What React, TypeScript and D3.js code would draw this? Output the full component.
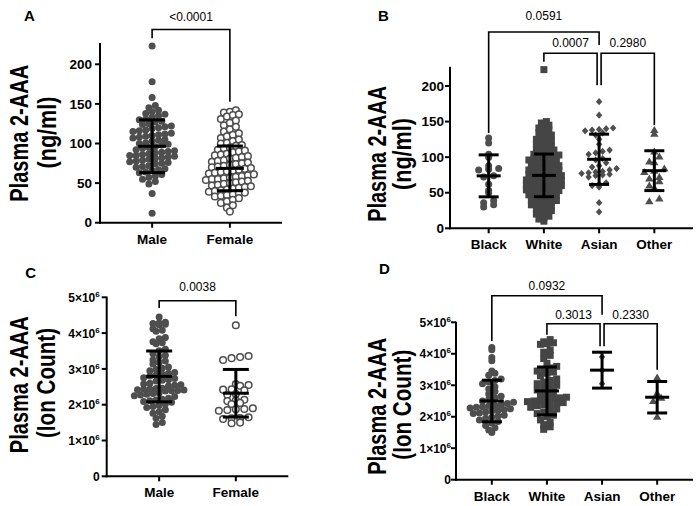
import React from "react";
import * as d3 from "d3";

const FONT = "'Liberation Sans', Arial, Helvetica, sans-serif";
const INK = "#000";
const DOT = "#4e4e4e";

const sexCategories = ["Male", "Female"];
const raceCategories = ["Black", "White", "Asian", "Other"];

// ---------- Panel A: Plasma 2-AAA (ng/ml) by sex ----------
const aMale = [223, 178, 158, 148, 145, 142, 140, 138, 137, 135, 133, 131, 130, 128, 127, 125, 124, 122, 121, 120, 119, 117, 116, 115, 113, 112, 111, 110, 109, 108, 107, 105, 104, 103, 101, 100, 99, 98, 96, 95, 94, 92, 91, 90, 89, 88, 87, 86, 85, 85, 84, 83, 82, 81, 80, 79, 78, 77, 76, 75, 74, 72, 71, 70, 68, 67, 66, 64, 63, 61, 59, 57, 55, 52, 49, 37, 12];
const aFemale = [142, 140, 139, 137, 136, 134, 131, 129, 126, 123, 121, 118, 115, 113, 111, 109, 107, 105, 103, 101, 100, 98, 97, 95, 94, 92, 91, 90, 89, 87, 86, 85, 84, 83, 82, 81, 79, 78, 77, 76, 75, 74, 73, 72, 71, 70, 69, 68, 67, 66, 65, 64, 63, 62, 61, 60, 59, 58, 57, 56, 55, 55, 54, 53, 52, 51, 50, 49, 48, 47, 46, 45, 44, 43, 42, 41, 40, 39, 38, 37, 36, 35, 34, 33, 31, 29, 27, 25, 22, 19, 14];
const aMeans = [96.5, 68.6];
const aSDs = [33.3, 28.2];
const aTicks = [0, 50, 100, 150, 200];

// ---------- Panel B: Plasma 2-AAA (ng/ml) by race ----------
const bBlack = [127, 120, 104, 100, 88, 84, 83, 82, 74, 72, 62, 53, 50, 39, 36, 33, 30];
const bWhite = [223, 150, 148, 145, 143, 141, 138, 136, 134, 131, 129, 127, 125, 123, 121, 119, 118, 116, 114, 112, 111, 110, 108, 107, 105, 104, 103, 102, 100, 99, 98, 97, 96, 95, 94, 93, 91, 90, 89, 88, 87, 86, 85, 84, 83, 82, 81, 80, 79, 78, 77, 76, 75, 74, 74, 73, 72, 71, 70, 69, 68, 67, 67, 66, 65, 64, 63, 62, 61, 60, 60, 59, 58, 57, 56, 55, 54, 53, 52, 51, 50, 49, 48, 47, 46, 45, 44, 42, 41, 40, 39, 38, 37, 35, 34, 33, 31, 30, 28, 27, 25, 23, 21, 20, 17, 15, 13, 10];
const bAsian = [178, 159, 141, 140, 139, 138, 137, 134, 131, 125, 118, 110, 108, 106, 104, 98, 96, 92, 88, 86, 84, 82, 80, 79, 78, 77, 76, 75, 74, 72, 64, 62, 60, 58, 36, 23];
const bOther = [138, 133, 108, 101, 94, 93, 84, 81, 79, 72, 70, 66, 60, 57, 42, 38];
const bMeans = [73.7, 74.4, 97, 81];
const bSDs = [29.5, 30, 35.3, 28];

// ---------- Panel C: Plasma 2-AAA (ion count, ×10^6) by sex ----------
const cMale = [4.45, 4.3, 4.28, 4.27, 4.25, 4.23, 4.12, 4.08, 4.05, 3.88, 3.84, 3.76, 3.73, 3.7, 3.55, 3.51, 3.42, 3.38, 3.34, 3.25, 3.22, 3.18, 3.14, 3.05, 3.02, 2.98, 2.95, 2.9, 2.88, 2.85, 2.83, 2.8, 2.75, 2.73, 2.7, 2.68, 2.66, 2.6, 2.58, 2.56, 2.54, 2.52, 2.46, 2.45, 2.44, 2.43, 2.42, 2.41, 2.4, 2.39, 2.38, 2.33, 2.31, 2.29, 2.27, 2.25, 2.23, 2.18, 2.15, 2.13, 2.11, 2.09, 2.07, 2.02, 1.98, 1.95, 1.92, 1.86, 1.8, 1.76, 1.68, 1.62, 1.5, 1.45];
const cFemale = [4.22, 3.36, 3.33, 3.3, 3.25, 2.58, 2.55, 2.53, 2.43, 2.42, 2.4, 2.3, 2.28, 2.14, 2.12, 2.1, 2.05, 2.02, 1.9, 1.88, 1.87, 1.85, 1.83, 1.65, 1.63, 1.62, 1.6, 1.5, 1.48];
const cMeans = [2.79, 2.32];
const cSDs = [0.71, 0.665];
const cTicks = [0, 1, 2, 3, 4, 5];

// ---------- Panel D: Plasma 2-AAA (ion count, ×10^6) by race ----------
const dBlack = [4.2, 4.13, 3.88, 3.78, 3.45, 3.38, 3.32, 3.2, 3.15, 3.1, 3.05, 2.95, 2.88, 2.8, 2.72, 2.65, 2.6, 2.55, 2.5, 2.46, 2.42, 2.38, 2.36, 2.34, 2.32, 2.3, 2.28, 2.25, 2.22, 2.2, 2.18, 2.15, 2.12, 2.1, 2.05, 2.02, 1.98, 1.95, 1.9, 1.85, 1.8, 1.72, 1.65, 1.58, 1.5];
const dWhite = [4.45, 4.38, 4.35, 4.32, 4.3, 4.12, 4.05, 3.95, 3.85, 3.7, 3.6, 3.55, 3.5, 3.45, 3.42, 3.38, 3.3, 3.2, 3.15, 3.1, 3.05, 3.0, 2.95, 2.9, 2.85, 2.8, 2.75, 2.7, 2.62, 2.6, 2.58, 2.55, 2.52, 2.5, 2.48, 2.45, 2.42, 2.4, 2.38, 2.35, 2.3, 2.25, 2.2, 2.15, 2.1, 2.05, 2.0, 1.9, 1.82, 1.75, 1.68, 1.6];
const dAsian = [3.9, 3.48, 3.05];
const dOther = [3.25, 2.75, 2.6, 2.5, 2.0];
const dMeans = [2.5, 2.82, 3.48, 2.62];
const dSDs = [0.66, 0.76, 0.57, 0.5];

// ---------- p-values ----------
const aPvalues = ["<0.0001"];
const bPvalues = ["0.0591", "0.0007", "0.2980"];
const cPvalues = ["0.0038"];
const dPvalues = ["0.0932", "0.3013", "0.2330"];

type Marker = "dot" | "open" | "square" | "diamond" | "triangle";

interface Bracket {
  from: number;
  to: number;
  text: string;
  level: number;
  legFrom: number;
  legTo: number;
  offFrom: number;
  offTo: number;
  lift: number;
}

interface PanelSpec {
  letter: string;
  letterPos: [number, number];
  cats: string[];
  series: number[][];
  markers: Marker[];
  rowH: number[];
  sp: number[];
  means: number[];
  sds: number[];
  yDomain: [number, number];
  yRange: [number, number];
  axisTopVal: number;
  xRange: [number, number];
  xPad: number;
  ticks: number[];
  sci: boolean;
  tickGap: number;
  labels: [string, string];
  labelX: [number, number];
  labelY: [number, number];
  labelLen: [number, number];
  meanHalf: number;
  capHalf: number;
  brackets: Bracket[];
}

function swarm(values: number[], y: (v: number) => number, cx: number, rowH: number, sp: number) {
  const pts = values.map((v) => ({ v, py: y(v) }));
  const bins = d3.group(pts, (p) => Math.floor(p.py / rowH));
  const out: { x: number; y: number }[] = [];
  for (const [, arr] of bins) {
    arr.sort((a, b) => a.v - b.v);
    const n = arr.length;
    arr.forEach((p, i) => out.push({ x: cx + (i - (n - 1) / 2) * sp, y: p.py }));
  }
  return out;
}

function MarkerShape({ m, x, y }: { m: Marker; x: number; y: number }) {
  switch (m) {
    case "dot":
      return <circle cx={x} cy={y} r={3.5} fill={DOT} />;
    case "open":
      return <circle cx={x} cy={y} r={3.3} fill="#fff" stroke={DOT} strokeWidth={1.5} />;
    case "square":
      return <rect x={x - 3.5} y={y - 3.5} width={7} height={7} fill={"#454545"} />;
    case "diamond":
      return <path d={`M${x},${y - 3.6}L${x + 3.2},${y}L${x},${y + 3.6}L${x - 3.2},${y}Z`} fill={DOT} />;
    case "triangle":
      return <path d={`M${x},${y - 4}L${x + 4.2},${y + 3}L${x - 4.2},${y + 3}Z`} fill={DOT} />;
  }
}

function Panel({ s }: { s: PanelSpec }) {
  const y = d3.scaleLinear().domain(s.yDomain).range(s.yRange);
  const x = d3.scalePoint<string>().domain(s.cats).range(s.xRange).padding(s.xPad);
  const x0 = s.xRange[0];
  const yBase = y(0);
  const yTop = y(s.axisTopVal);
  return (
    <g fontFamily={FONT}>
      <text x={s.letterPos[0]} y={s.letterPos[1]} textAnchor="middle" fontSize={15} fontWeight="bold">
        {s.letter}
      </text>
      {s.series.map((vals, gi) => {
        const cx = x(s.cats[gi]) as number;
        return (
          <g key={gi}>
            {swarm(vals, y, cx, s.rowH[gi], s.sp[gi]).map((p, i) => (
              <MarkerShape key={i} m={s.markers[gi]} x={p.x} y={p.y} />
            ))}
          </g>
        );
      })}
      {s.means.map((m, gi) => {
        const cx = x(s.cats[gi]) as number;
        const hi = y(m + s.sds[gi]);
        const lo = y(m - s.sds[gi]);
        const my = y(m);
        return (
          <g key={gi} stroke={INK} strokeWidth={3}>
            <line x1={cx} x2={cx} y1={hi} y2={lo} />
            <line x1={cx - s.meanHalf} x2={cx + s.meanHalf} y1={my} y2={my} />
            <line x1={cx - s.capHalf} x2={cx + s.capHalf} y1={hi} y2={hi} />
            <line x1={cx - s.capHalf} x2={cx + s.capHalf} y1={lo} y2={lo} />
          </g>
        );
      })}
      <g stroke={INK} strokeWidth={2}>
        <line x1={x0} x2={x0} y1={yTop} y2={yBase + 1} />
        <line x1={x0 - 1} x2={s.xRange[1]} y1={yBase} y2={yBase} />
        {s.ticks.map((t) => (
          <line key={t} x1={x0 - 5} x2={x0} y1={y(t)} y2={y(t)} />
        ))}
        {s.cats.map((c) => (
          <line key={c} x1={x(c)} x2={x(c)} y1={yBase} y2={yBase + 5} />
        ))}
      </g>
      {s.ticks.map((t) => (
        <text
          key={t}
          x={x0 - s.tickGap}
          y={y(t) + 4.6}
          textAnchor="end"
          fontSize={s.sci ? 12 : 13.5}
          fontWeight="bold"
        >
          {s.sci && t !== 0 ? (
            <>
              <tspan>{`${t}×10`}</tspan>
              <tspan dy={-5} fontSize={8}>
                6
              </tspan>
            </>
          ) : (
            String(t)
          )}
        </text>
      ))}
      {s.cats.map((c) => (
        <text key={c} x={x(c)} y={yBase + 20.8} textAnchor="middle" fontSize={13.5} fontWeight="bold">
          {c}
        </text>
      ))}
      {s.labels.map((l, i) => (
        <text
          key={i}
          transform={`translate(${s.labelX[i]},${s.labelY[i]}) rotate(-90)`}
          textAnchor="middle"
          dominantBaseline="central"
          fontSize={26}
          fontWeight="bold"
          textLength={s.labelLen[i]}
          lengthAdjust="spacingAndGlyphs"
        >
          {l}
        </text>
      ))}
      {s.brackets.map((b, i) => {
        const xa = (x(s.cats[b.from]) as number) + b.offFrom;
        const xb = (x(s.cats[b.to]) as number) + b.offTo;
        const ly = y(b.level);
        return (
          <g key={i}>
            <path
              d={`M${xa},${y(b.legFrom)}V${ly}H${xb}V${y(b.legTo)}`}
              fill="none"
              stroke={INK}
              strokeWidth={1.6}
            />
            <text x={(xa + xb) / 2} y={ly - b.lift} textAnchor="middle" fontSize={12}>
              {b.text}
            </text>
          </g>
        );
      })}
    </g>
  );
}

const panels: PanelSpec[] = [
  {
    letter: "A",
    letterPos: [29.5, 20.5],
    cats: sexCategories,
    series: [aMale, aFemale],
    markers: ["dot", "open"],
    rowH: [6, 6],
    sp: [6.4, 6],
    means: aMeans,
    sds: aSDs,
    yDomain: [0, 200],
    yRange: [222.7, 64.3],
    axisTopVal: 227,
    xRange: [100, 282],
    xPad: 0.67,
    ticks: aTicks,
    sci: false,
    tickGap: 8,
    labels: ["Plasma 2-AAA", "(ng/ml)"],
    labelX: [18.5, 46.5],
    labelY: [133.3, 132.5],
    labelLen: [137, 72],
    meanHalf: 14,
    capHalf: 13,
    brackets: [
      { from: 0, to: 1, text: aPvalues[0], level: 244, legFrom: 233, legTo: 152.7, offFrom: 0, offTo: 0, lift: 8 },
    ],
  },
  {
    letter: "B",
    letterPos: [383.5, 20.5],
    cats: raceCategories,
    series: [bBlack, bWhite, bAsian, bOther],
    markers: ["dot", "square", "diamond", "triangle"],
    rowH: [6, 5, 6, 6],
    sp: [10, 5, 7, 10],
    means: bMeans,
    sds: bSDs,
    yDomain: [0, 200],
    yRange: [228.3, 86],
    axisTopVal: 227,
    xRange: [450, 693],
    xPad: 0.7,
    ticks: aTicks,
    sci: false,
    tickGap: 6,
    labels: ["Plasma 2-AAA", "(ng/ml)"],
    labelX: [376.7, 401.7],
    labelY: [153.8, 154],
    labelLen: [136, 72],
    meanHalf: 12,
    capHalf: 10,
    brackets: [
      { from: 0, to: 2, text: bPvalues[0], level: 276, legFrom: 134, legTo: 257.5, offFrom: 0, offTo: 0, lift: 12 },
      { from: 1, to: 2, text: bPvalues[1], level: 246, legFrom: 234, legTo: 201, offFrom: 0, offTo: -2, lift: 6 },
      { from: 2, to: 3, text: bPvalues[2], level: 246, legFrom: 201, legTo: 145, offFrom: 2, offTo: 0, lift: 6 },
    ],
  },
  {
    letter: "C",
    letterPos: [30.7, 277.5],
    cats: sexCategories,
    series: [cMale, cFemale],
    markers: ["dot", "open"],
    rowH: [6, 6],
    sp: [6.2, 8.5],
    means: cMeans,
    sds: cSDs,
    yDomain: [0, 5],
    yRange: [476.3, 297.3],
    axisTopVal: 5.02,
    xRange: [106.7, 288.3],
    xPad: 0.684,
    ticks: cTicks,
    sci: true,
    tickGap: 7,
    labels: ["Plasma 2-AAA", "(Ion Count)"],
    labelX: [18.5, 45.5],
    labelY: [384.7, 383],
    labelLen: [137, 110],
    meanHalf: 13,
    capHalf: 13,
    brackets: [
      { from: 0, to: 1, text: cPvalues[0], level: 4.905, legFrom: 4.7, legTo: 4.47, offFrom: 0, offTo: 0, lift: 10 },
    ],
  },
  {
    letter: "D",
    letterPos: [384.3, 274],
    cats: raceCategories,
    series: [dBlack, dWhite, dAsian, dOther],
    markers: ["dot", "square", "diamond", "triangle"],
    rowH: [6, 6, 6, 6],
    sp: [6.2, 6.5, 7, 8],
    means: dMeans,
    sds: dSDs,
    yDomain: [0, 5],
    yRange: [479.7, 322.3],
    axisTopVal: 5.02,
    xRange: [456, 693],
    xPad: 0.65,
    ticks: cTicks,
    sci: true,
    tickGap: 5,
    labels: ["Plasma 2-AAA", "(Ion Count)"],
    labelX: [376.7, 401.7],
    labelY: [406.3, 404.7],
    labelLen: [137, 110],
    meanHalf: 12,
    capHalf: 10,
    brackets: [
      { from: 0, to: 2, text: dPvalues[0], level: 5.845, legFrom: 4.406, legTo: 5.24, offFrom: 0, offTo: 0, lift: 5.5 },
      { from: 1, to: 2, text: dPvalues[1], level: 4.955, legFrom: 4.606, legTo: 4.237, offFrom: 0, offTo: -2, lift: 5 },
      { from: 2, to: 3, text: dPvalues[2], level: 4.955, legFrom: 4.237, legTo: 3.494, offFrom: 2, offTo: 0, lift: 5 },
    ],
  },
];

export default function App() {
  return (
    <svg
      width={700}
      height={506}
      viewBox="0 0 700 506"
      style={{ position: "absolute", left: 0, top: 0, display: "block", background: "#fff" }}
    >
      <rect width={700} height={506} fill="#fff" />
      {panels.map((p) => (
        <Panel key={p.letter} s={p} />
      ))}
    </svg>
  );
}
